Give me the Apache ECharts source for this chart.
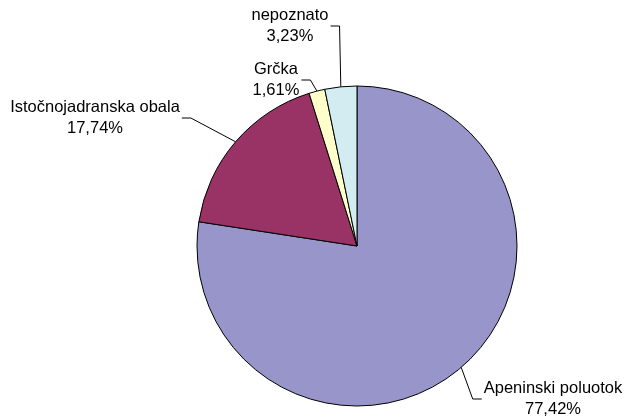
<!DOCTYPE html>
<html>
<head>
<meta charset="utf-8">
<script src="https://cdn.jsdelivr.net/npm/echarts@6/dist/echarts.min.js"></script>
<style>html,body{margin:0;padding:0;background:#fff}#c{width:626px;height:420px}</style>
</head>
<body>
<div id="c"></div>
<script>
const categories = ['Apeninski poluotok', 'Istočnojadranska obala', 'Grčka', 'nepoznato'];
const values = [48, 11, 1, 2];
const colors = ['#9795C9', '#993366', '#FFFFCC', '#D2ECF1'];
// label block centres (layout only)
const labelCentres = [[553, 399], [95, 118], [276, 80], [290, 26]];

const chart = echarts.init(document.getElementById('c'), null, {renderer: 'canvas'});
const data = categories.map((n, i) => ({name: n, value: values[i], itemStyle: {color: colors[i]}}));

chart.setOption({
  animation: false,
  series: [{
    type: 'pie',
    center: [357, 246],
    radius: 160,
    startAngle: 90,
    clockwise: true,
    avoidLabelOverlap: false,
    data: data,
    itemStyle: {borderColor: '#000', borderWidth: 1},
    emphasis: {disabled: true},
    label: {
      show: true,
      position: 'outside',
      fontFamily: 'Liberation Sans, Arial, sans-serif',
      fontSize: 16.5,
      lineHeight: 21,
      color: '#000',
      align: 'center',
      formatter: p => p.name + '\n' + p.percent.toFixed(2).replace('.', ',') + '%'
    },
    labelLine: {show: true, length: 10, length2: 10, lineStyle: {color: '#000', width: 1}},
    labelLayout: function (p) {
      const c = labelCentres[p.dataIndex];
      const w = p.labelRect.width;
      const anchor = p.labelLinePoints ? p.labelLinePoints[0] : [c[0], c[1]];
      const left = c[0] < 357;
      const edge = left ? c[0] + w / 2 + 2 : c[0] - w / 2 - 2;
      const elbow = left ? edge + 9 : edge - 9;
      return {
        x: c[0], y: c[1], align: 'center', verticalAlign: 'middle',
        labelLinePoints: [anchor, [elbow, c[1]], [edge, c[1]]]
      };
    }
  }]
});
</script>
</body>
</html>
